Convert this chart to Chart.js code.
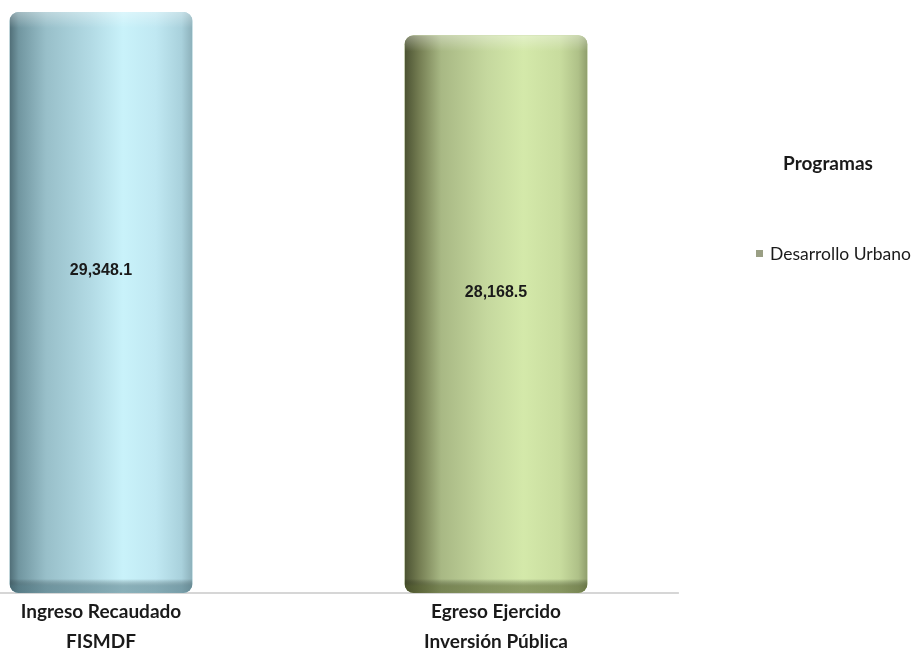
<!DOCTYPE html>
<html>
<head>
<meta charset="utf-8">
<script src="https://cdn.jsdelivr.net/npm/chart.js@4.4.1/dist/chart.umd.min.js"></script>
<style>
  html, body { margin: 0; padding: 0; background: #ffffff; }
  #wrap { width: 916px; height: 660px; position: relative; }
</style>
</head>
<body>
<div id="wrap"><canvas id="c" width="916" height="660"></canvas></div>
<script>
// ---- data ----
const categories = [["Ingreso Recaudado", "FISMDF"], ["Egreso Ejercido", "Inversión Pública"]];
const seriesName = "Desarrollo Urbano";
const values = [29348.1, 28168.5];
const valueLabels = ["29,348.1", "28,168.5"];
const legendTitle = "Programas";

// ---- styles ----
const gradients = [
  [[0, "#506e77"], [0.05, "#7196a0"], [0.2, "#98bfc9"], [0.45, "#b3dbe5"], [0.62, "#c9f2fa"], [0.8, "#c0e8f2"], [0.94, "#a9d1dc"], [1, "#8cb0ba"]],
  [[0, "#4b5232"], [0.08, "#747d52"], [0.2, "#a8b884"], [0.45, "#c5d89e"], [0.65, "#d4e9aa"], [0.85, "#c8dc9e"], [0.95, "#afc188"], [1, "#8f9e6c"]]
];
const baseColors = ["#b0d8e2", "#c3d69c"];
const bottomBand = ["rgba(60,95,105,0.45)", "rgba(70,80,35,0.5)"];

const cylinderPlugin = {
  id: "cylinder",
  beforeDatasetsDraw(chart) {
    const ctx = chart.ctx;
    const meta = chart.getDatasetMeta(0);
    const last = meta.data[meta.data.length - 1];
    const p = last.getProps(["x", "base", "width"], true);
    ctx.save();
    ctx.strokeStyle = "#d6d6d6";
    ctx.lineWidth = 2;
    ctx.beginPath();
    ctx.moveTo(0, p.base);
    ctx.lineTo(p.x + p.width, p.base);
    ctx.stroke();
    ctx.restore();
  },
  afterDatasetsDraw(chart) {
    const ctx = chart.ctx;
    const meta = chart.getDatasetMeta(0);
    meta.data.forEach((el, i) => {
      const { x, y, base, width } = el.getProps(["x", "y", "base", "width"], true);
      const left = x - width / 2;
      const h = base - y;
      ctx.save();
      ctx.beginPath();
      ctx.roundRect(left, y, width, h, 9);
      ctx.clip();
      const g = ctx.createLinearGradient(left, 0, left + width, 0);
      gradients[i].forEach(s => g.addColorStop(s[0], s[1]));
      ctx.fillStyle = g;
      ctx.fillRect(left, y, width, h);
      // top highlight
      const gt = ctx.createLinearGradient(0, y, 0, y + 16);
      gt.addColorStop(0, "rgba(255,255,255,0.35)");
      gt.addColorStop(1, "rgba(255,255,255,0)");
      ctx.fillStyle = gt;
      ctx.fillRect(left, y, width, 16);
      // bottom shading
      const gb = ctx.createLinearGradient(0, base - 14, 0, base);
      gb.addColorStop(0, "rgba(0,0,0,0)");
      gb.addColorStop(0.5, bottomBand[i]);
      gb.addColorStop(1, bottomBand[i]);
      ctx.fillStyle = gb;
      ctx.fillRect(left, base - 14, width, 14);
      ctx.restore();

      // value label
      ctx.save();
      ctx.font = "bold 16px 'Liberation Sans', Arial, sans-serif";
      ctx.fillStyle = "#1a1a1a";
      ctx.textAlign = "center";
      ctx.textBaseline = "middle";
      ctx.fillText(valueLabels[i], x, y + h * (0.445 + i * 0.016));
      ctx.restore();
    });
  },
  afterDraw(chart) {
    const ctx = chart.ctx;
    ctx.save();
    ctx.fillStyle = "#1a1a1a";
    ctx.textBaseline = "middle";
    ctx.textAlign = "center";
    ctx.font = "bold 19px Lato, 'Open Sans', sans-serif";
    ctx.fillText(legendTitle, 828, 164);
    ctx.fillStyle = "#9a9f84";
    ctx.fillRect(756, 250, 7, 7);
    ctx.fillStyle = "#1a1a1a";
    ctx.textAlign = "left";
    ctx.font = "17.5px Lato, 'Open Sans', sans-serif";
    ctx.fillText(seriesName, 770, 254);
    ctx.restore();
  }
};

new Chart(document.getElementById("c"), {
  type: "bar",
  data: {
    labels: categories,
    datasets: [{
      label: seriesName,
      data: values,
      backgroundColor: baseColors,
      borderWidth: 0,
      borderRadius: 9,
      borderSkipped: false,
      barPercentage: 0.463,
      categoryPercentage: 1,
      clip: false
    }]
  },
  options: {
    responsive: false,
    animation: false,
    devicePixelRatio: 1,
    layout: { padding: { left: 101, right: 420, top: 12, bottom: 7 } },
    plugins: {
      legend: { display: false },
      tooltip: { enabled: false }
    },
    scales: {
      x: {
        type: "category",
        offset: false,
        grid: { display: false },
        border: { display: false },
        ticks: {
          padding: -4,
          color: "#1a1a1a",
          maxRotation: 0,
          autoSkip: false,
          font: { family: "Lato, 'Open Sans', sans-serif", size: 19, weight: "bold", lineHeight: 1.58 }
        }
      },
      y: {
        display: false,
        min: 0,
        max: Math.max(...values)
      }
    }
  },
  plugins: [cylinderPlugin]
});
</script>
</body>
</html>
